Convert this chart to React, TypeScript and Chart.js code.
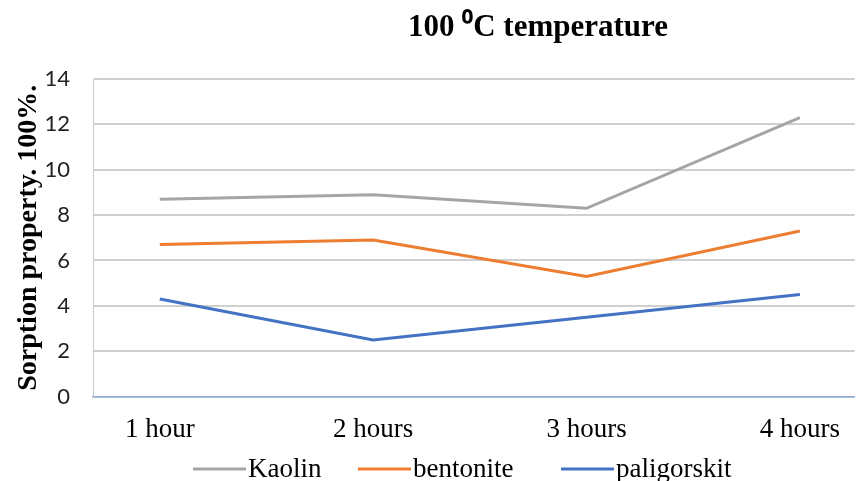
import React, { useEffect, useRef } from "react";
import { Chart, registerables } from "chart.js";

Chart.register(...registerables);

const categories = ["1 hour", "2 hours", "3 hours", "4 hours"];
const kaolin = [8.7, 8.9, 8.3, 12.3];
const bentonite = [6.7, 6.9, 5.3, 7.3];
const paligorskit = [4.3, 2.5, 3.5, 4.5];
const seriesNames = ["Kaolin", "bentonite", "paligorskit"];
const seriesColors = ["#a5a5a5", "#ed7d31", "#4472c4"];
const titleText = "100 \u2070C temperature";
const yTitle = "Sorption property. 100%.";

const toPts = (arr: number[]) => arr.map((y, i) => ({ x: i, y }));

const overlayPlugin = {
  id: "overlay",
  afterDraw(chart: any) {
    const ctx = chart.ctx;
    ctx.save();
    // title
    ctx.fillStyle = "#000";
    ctx.font = "bold 31px 'Liberation Serif', serif";
    ctx.textAlign = "center";
    ctx.textBaseline = "middle";
    ctx.fillText(titleText, 538, 28);
    // legend
    const items = chart.data.datasets;
    const xs = [193, 358, 561];
    const y = 469;
    ctx.font = "27px 'Liberation Serif', serif";
    ctx.textAlign = "left";
    items.forEach((ds: any, i: number) => {
      ctx.strokeStyle = ds.borderColor;
      ctx.lineWidth = 3;
      ctx.beginPath();
      ctx.moveTo(xs[i], y);
      ctx.lineTo(xs[i] + 53, y);
      ctx.stroke();
      ctx.fillStyle = "#000";
      ctx.fillText(ds.label, xs[i] + 55, y + 1);
    });
    ctx.restore();
  },
};

export default function App() {
  const ref = useRef<HTMLCanvasElement | null>(null);
  useEffect(() => {
    if (!ref.current) return;
    const datasets = [kaolin, bentonite, paligorskit].map((arr, i) => ({
      label: seriesNames[i],
      data: toPts(arr),
      borderColor: seriesColors[i],
      backgroundColor: seriesColors[i],
      borderWidth: 3,
      pointRadius: 0,
      tension: 0,
    }));
    const chart = new Chart(ref.current, {
      type: "line",
      data: { datasets },
      options: {
        animation: false,
        responsive: false,
        layout: { padding: { top: 79, right: 0, bottom: 18, left: 12 } },
        plugins: { legend: { display: false }, title: { display: false }, tooltip: { enabled: false } },
        scales: {
          x: {
            type: "linear",
            min: -0.313,
            max: 3.257,
            afterBuildTicks: (axis: any) => {
              axis.ticks = categories.map((_, i) => ({ value: i }));
            },
            ticks: {
              callback: (v: any) => categories[v as number] ?? "",
              font: { family: "'Liberation Serif', serif", size: 27 },
              color: "#000",
              padding: 17,
              maxRotation: 0,
            },
            grid: { display: false, drawTicks: false },
            border: { display: true, color: "#8faadc", width: 1.5 },
          },
          y: {
            min: 0,
            max: 14,
            afterFit: (axis: any) => {
              axis.width = 81;
            },
            ticks: {
              stepSize: 2,
              font: { family: "Lato, sans-serif", size: 22 },
              color: "#222",
              padding: 23,
            },
            grid: { color: "#d0d0d0", lineWidth: 2, drawTicks: false },
            border: { display: true, color: "#c8c8c8", width: 1 },
            title: {
              display: true,
              text: yTitle,
              font: { family: "'Liberation Serif', serif", size: 28, weight: "bold" },
              color: "#000",
              padding: 0,
            },
          },
        },
      },
      plugins: [overlayPlugin],
    });
    return () => chart.destroy();
  }, []);
  return (
    <div style={{ position: "fixed", left: 0, top: 0, width: 857, height: 481, background: "#fff" }}>
      <canvas ref={ref} width={857} height={481} style={{ display: "block" }} />
    </div>
  );
}
